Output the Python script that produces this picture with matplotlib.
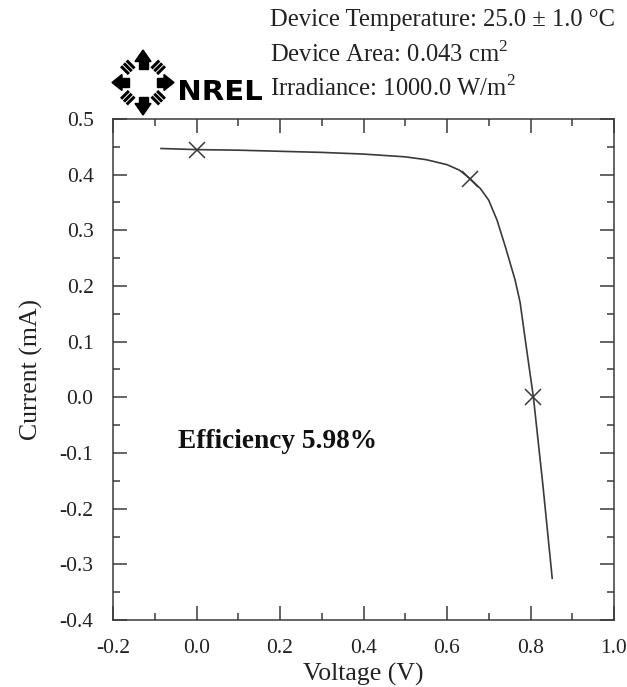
import matplotlib
matplotlib.use("Agg")
import matplotlib.pyplot as plt
import numpy as np
from matplotlib.patches import Polygon, PathPatch
from matplotlib.textpath import TextPath
from matplotlib.font_manager import FontProperties
from matplotlib.transforms import Affine2D
from matplotlib.ticker import MultipleLocator

# ---- data ----
voltage = [-0.085, 0.0, 0.1, 0.2, 0.3, 0.4, 0.5, 0.55, 0.6, 0.63, 0.655,
           0.68, 0.70, 0.72, 0.74, 0.763, 0.775, 0.79, 0.807, 0.83, 0.852]
current = [0.447, 0.445, 0.444, 0.442, 0.440, 0.437, 0.432, 0.427, 0.418,
           0.408, 0.393, 0.375, 0.354, 0.318, 0.270, 0.211, 0.171, 0.090,
           0.0, -0.160, -0.325]
marker_v = [0.0, 0.655, 0.807]
marker_i = [0.445, 0.393, 0.0]
header_lines = ["Device Temperature: 25.0 \u00b1 1.0 \u00b0C",
                "Device Area: 0.043 cm$^2$",
                "Irradiance: 1000.0 W/m$^2$"]
efficiency_label = "Efficiency 5.98%"
logo_text = "NREL"
x_ticks = [-0.2, 0.0, 0.2, 0.4, 0.6, 0.8, 1.0]
y_ticks = [0.5, 0.4, 0.3, 0.2, 0.1, 0.0, -0.1, -0.2, -0.3, -0.4]

W, H = 627, 687
fig = plt.figure(figsize=(W / 100, H / 100), dpi=100)
plt.rcParams['mathtext.fontset'] = 'custom'
plt.rcParams['mathtext.rm'] = 'Liberation Serif'
serif = 'Liberation Serif'
ink = '#3a3a3a'

ax = fig.add_axes([113 / W, 1 - 620 / H, (614 - 113) / W, (620 - 119) / H])
ax.plot(voltage, current, color=ink, lw=1.2)
ax.plot(marker_v, marker_i, ls='none', marker='x', ms=12, mew=1.1, color=ink)
ax.set_xlim(-0.2, 1.0)
ax.set_ylim(-0.4, 0.5)
ax.set_xticks(x_ticks)
ax.set_yticks(y_ticks)
ax.set_xticklabels([f"{t:.1f}" for t in x_ticks], fontfamily=serif, fontsize=15.5)
ax.set_yticklabels([f"{t:.1f}" for t in y_ticks], fontfamily=serif, fontsize=15.5)
ax.xaxis.set_minor_locator(MultipleLocator(0.1))
ax.yaxis.set_minor_locator(MultipleLocator(0.05))
ax.tick_params(which='both', direction='in', top=True, right=True, color=ink, width=1.1)
ax.tick_params(which='major', length=10)
ax.tick_params(which='minor', length=5)
ax.tick_params(axis='x', which='major', pad=14, labelcolor='#222')
ax.tick_params(axis='y', which='major', pad=14, labelcolor='#222')
for s in ax.spines.values():
    s.set_color(ink)
    s.set_linewidth(1.1)
ax.set_xlabel("Voltage (V)", fontfamily=serif, fontsize=18.5, color='#222', labelpad=3)
ax.set_ylabel("Current (mA)", fontfamily=serif, fontsize=18.5, color='#222', labelpad=12)
ax.text(-0.045, -0.08, efficiency_label, fontfamily=serif, fontsize=19.7,
        fontweight='bold', va='center', ha='left', color='#111')

# ---- header text ----
for i, line in enumerate(header_lines):
    fig.text(270 / W, 1 - (20 + 34 * i) / H, line, fontfamily=serif, fontsize=17.7,
             va='center', ha='left', color='#222')

# ---- NREL logo (pixel overlay) ----
lx = fig.add_axes([0, 0, 1, 1], zorder=-1)
lx.set_xlim(0, W)
lx.set_ylim(H, 0)
lx.axis('off')
cx, cy = 143, 82.5
for ang in [0, 90, 180, 270]:
    a = np.deg2rad(ang)
    d = np.array([np.cos(a), -np.sin(a)])
    n = np.array([-d[1], d[0]])
    c = np.array([cx, cy])
    reach = 31 if ang in (0, 180) else 32.5
    tip = c + d * reach
    b1 = c + d * 21 + n * 8
    b2 = c + d * 21 - n * 8
    lx.add_patch(Polygon([tip, b1, b2], closed=True, color='black'))
    s1 = c + d * 14 + n * 4.5
    s2 = c + d * 14 - n * 4.5
    s3 = c + d * 22 - n * 4.5
    s4 = c + d * 22 + n * 4.5
    lx.add_patch(Polygon([s1, s2, s3, s4], closed=True, color='black'))
for ang in [45, 135, 225, 315]:
    a = np.deg2rad(ang)
    d = np.array([np.cos(a), -np.sin(a)])
    n = np.array([-d[1], d[0]])
    c = np.array([cx, cy])
    for k in (-4, 0, 4):
        p0 = c + d * 16 + n * k
        p1 = c + d * 27 + n * k
        lx.plot([p0[0], p1[0]], [p0[1], p1[1]], color='black', lw=2.2,
                solid_capstyle='butt')

# NREL lettering fitted into its box (x 180..262, y 80..100 px)
tp = TextPath((0, 0), logo_text, size=20,
              prop=FontProperties(family='DejaVu Sans', weight='heavy'))
bb = tp.get_extents()
sx = (262 - 180) / bb.width
sy = (100 - 80) / bb.height
tr = (Affine2D().translate(-bb.x0, -bb.y0).scale(sx, -sy).translate(180, 100))
lx.add_patch(PathPatch(tr.transform_path(tp), color='black', lw=0))

fig.savefig("out.png", dpi=100, facecolor='white')
